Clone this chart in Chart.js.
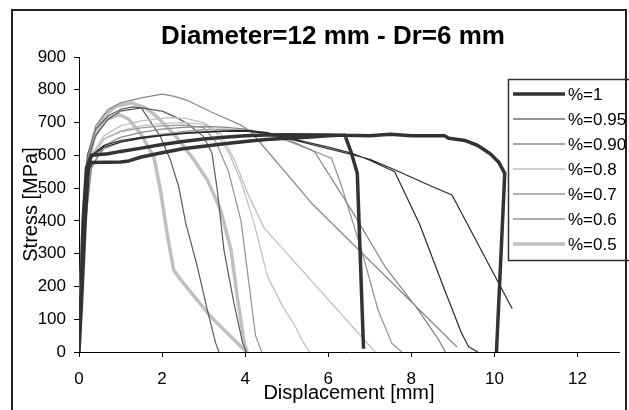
<!DOCTYPE html>
<html>
<head>
<meta charset="utf-8">
<script src="https://cdn.jsdelivr.net/npm/chart.js@4.4.0/dist/chart.umd.min.js"></script>
<style>
  body { margin: 0; background: #fff; }
  canvas { display: block; }
</style>
</head>
<body>
<canvas id="chart" width="629" height="410"></canvas>
<script>
const chartTitle = 'Diameter=12 mm - Dr=6 mm'

// legend labels, one per ratio
const labels = ['%=1', '%=0.95', '%=0.90', '%=0.8', '%=0.7', '%=0.6', '%=0.5']

// two specimens per ratio, [displacement mm, stress MPa]
const r100a = [[0,0],[0.04,150],[0.1,400],[0.18,560],[0.3,600],[0.7,605],[1,612],[1.5,622],[2,633],[2.5,642],[3,650],[3.5,655],[4,660],[4.5,662],[5,663],[6,662],[7,660],[7.5,664],[8,660],[8.8,660],[8.9,652],[9.3,645],[9.6,630],[9.9,605],[10.1,580],[10.25,545],[10.05,0]]
const r100b = [[0,0],[0.06,150],[0.15,400],[0.22,560],[0.3,578],[1,580],[1.2,583],[1.5,595],[2,608],[2.5,620],[3,628],[3.5,635],[4,642],[4.5,648],[5,652],[5.5,655],[6,660],[6.4,662],[6.55,610],[6.7,545],[6.85,10]]
const r095a = [[0,0],[0.05,200],[0.15,480],[0.3,600],[0.6,630],[1,645],[1.5,655],[2,662],[2.5,668],[3,672],[3.5,675],[4,676],[4.5,670],[5,655],[5.5,640],[6,625],[6.56,607],[7,585],[7.6,550],[8.2,390],[8.8,190],[9.2,60],[9.38,16],[9.6,0]]
const r095b = [[0,0],[0.05,180],[0.15,470],[0.3,595],[0.6,625],[1,640],[1.5,652],[2,660],[2.5,666],[3,670],[3.5,673],[4,674],[4.5,668],[5,652],[5.5,636],[6,620],[6.56,603],[7,588],[7.6,556],[8.5,505],[8.98,479],[10.43,132]]
const r090a = [[0,0],[0.08,350],[0.2,580],[0.4,690],[0.7,740],[1,760],[1.5,775],[2,787],[2.3,780],[2.6,768],[3.17,733],[3.9,692],[4.14,672],[5.6,454],[9.1,15]]
const r090b = [[0,0],[0.1,330],[0.3,560],[0.6,630],[1,655],[1.5,670],[2,680],[2.5,685],[3,688],[3.5,686],[4,680],[4.5,668],[5,650],[5.67,611],[6.56,433],[7.37,260],[8.17,128],[8.66,37],[8.82,0]]
const r080a = [[0,0],[0.08,380],[0.3,600],[0.6,660],[1,690],[1.5,705],[2,713],[2.2,715],[2.6,712],[3,700],[3.41,665],[3.74,586],[4.06,484],[4.46,378],[7.13,0]]
const r080b = [[0,0],[0.08,360],[0.3,590],[0.6,650],[1,675],[1.5,690],[2,697],[2.5,700],[3,695],[3.3,670],[3.6,610],[3.9,520],[4.2,400],[4.54,230],[4.9,140],[5.2,80],[5.35,40],[5.55,0]]
const r070a = [[0,0],[0.1,340],[0.3,570],[0.6,620],[1,640],[1.5,655],[2,665],[2.5,672],[3,678],[3.5,680],[4,676],[4.5,665],[5,645],[5.6,616],[6.08,591],[6.3,514],[6.8,311],[7.2,128],[7.53,27],[7.77,0]]
const r070b = [[0,0],[0.1,360],[0.3,590],[0.6,650],[1,672],[1.5,684],[2,690],[2.5,692],[3,685],[3.3,640],[3.6,550],[3.9,400],[4.1,200],[4.25,50],[4.4,0]]
const r060a = [[0,0],[0.1,450],[0.2,600],[0.4,680],[0.7,720],[1,740],[1.3,748],[1.5,745],[1.72,703],[1.96,657],[2.2,586],[2.4,504],[2.57,393],[2.85,260],[3.09,128],[3.29,27],[3.37,0]]
const r060b = [[0,0],[0.1,430],[0.2,580],[0.4,660],[0.7,710],[1,735],[1.5,745],[2,735],[2.3,718],[2.6,698],[3,657],[3.2,607],[3.33,494],[3.49,311],[3.73,149],[3.94,27],[4.03,0]]
const r050a = [[0,0],[0.08,330],[0.18,540],[0.35,650],[0.6,705],[0.95,725],[1.2,710],[1.48,667],[1.8,596],[1.96,494],[2.12,362],[2.28,250],[2.45,220],[3.17,108],[3.98,6],[4.05,0]]
const r050b = [[0,0],[0.08,350],[0.18,560],[0.35,660],[0.6,720],[0.9,750],[1.27,760],[1.6,745],[1.88,718],[2.37,652],[2.77,586],[3.09,525],[3.41,433],[3.66,311],[3.82,159],[3.98,27],[4.05,0]]

const xTicks = [0, 2, 4, 6, 8, 10, 12]

const specimens = [
  [r100a, r100b], [r095a, r095b], [r090a, r090b], [r080a, r080b],
  [r070a, r070b], [r060a, r060b], [r050a, r050b],
]

const lineColors = ['#333333', '#2a2a2a', '#8a8a8a', '#c2c2c2', '#9a9a9a', '#5a5a5a', '#c0c0c0']
const lineWidths = [3.5, 1.2, 1.3, 1.3, 1.3, 1.2, 3.5]

// join both specimens, with a null point so the line breaks between them
const toPoints = (runs) => {
  const pts = []
  runs.forEach((run, i) => {
    if (i > 0) pts.push({ x: run[0][0], y: null })
    run.forEach(p => pts.push({ x: p[0], y: p[1] }))
  })
  return pts
}

const FONT = "'Liberation Sans', Arial, sans-serif"

const frame = {
  id: 'frame',
  beforeDraw(chart) {
    const c = chart.ctx
    c.save()
    c.fillStyle = '#fff'
    c.fillRect(0, 0, chart.width, chart.height)
    // title, centred like the original sheet
    c.fillStyle = '#000'
    c.font = 'bold 26px ' + FONT
    c.textAlign = 'center'
    c.textBaseline = 'middle'
    c.fillText(chartTitle, 333, 37)
    c.restore()
  },
  afterDraw(chart) {
    const c = chart.ctx
    c.save()
    // legend box
    c.fillStyle = '#fff'
    c.fillRect(508, 79, 130, 181)
    c.strokeStyle = '#333'
    c.lineWidth = 1.5
    c.strokeRect(508.5, 79.5, 130, 181)
    chart.data.datasets.forEach((ds, i) => {
      const y = 94 + i * 25
      c.strokeStyle = ds.borderColor
      c.lineWidth = ds.borderWidth
      c.beginPath()
      c.moveTo(513, y)
      c.lineTo(565, y)
      c.stroke()
      c.fillStyle = '#000'
      c.font = '17px ' + FONT
      c.textBaseline = 'middle'
      c.textAlign = 'left'
      c.fillText(ds.label, 568, y + 1)
    })
    // outer frame
    c.strokeStyle = '#222'
    c.lineWidth = 2
    c.strokeRect(12, 10, 614, 420)
    c.restore()
  }
}

new Chart(document.getElementById('chart'), {
  type: 'scatter',
  data: {
    datasets: labels.map((label, i) => ({
      label,
      data: toPoints(specimens[i]),
      showLine: true,
      borderColor: lineColors[i],
      borderWidth: lineWidths[i],
      pointRadius: 0,
      tension: 0,
      spanGaps: false,
      borderJoinStyle: 'round',
    }))
  },
  options: {
    responsive: false,
    animation: false,
    layout: { padding: { left: 0, right: 10, top: 57, bottom: 0 } },
    plugins: {
      legend: { display: false },
      tooltip: { enabled: false },
      title: { display: false },
    },
    scales: {
      x: {
        type: 'linear',
        min: 0,
        max: 13,
        afterFit: (s) => { s.height = 58 },
        afterBuildTicks: (s) => { s.ticks = xTicks.map(v => ({ value: v })) },
        ticks: { color: '#000', padding: 12, font: { family: FONT, size: 17 } },
        grid: { drawOnChartArea: false, color: '#000', tickLength: 5 },
        border: { color: '#000', width: 1 },
        title: {
          display: true,
          text: 'Displacement [mm]',
          color: '#000',
          font: { family: FONT, size: 20 },
          padding: { top: 0, bottom: 5 },
        },
      },
      y: {
        min: 0,
        max: 900,
        afterFit: (s) => { s.width = 79 },
        ticks: { stepSize: 100, color: '#000', padding: 8, font: { family: FONT, size: 17 } },
        grid: { drawOnChartArea: false, color: '#000', tickLength: 5 },
        border: { color: '#000', width: 1 },
        title: {
          display: true,
          text: 'Stress [MPa]',
          color: '#000',
          font: { family: FONT, size: 20 },
          padding: { top: 19, bottom: 0 },
        },
      },
    },
  },
  plugins: [frame],
})
</script>
</body>
</html>
